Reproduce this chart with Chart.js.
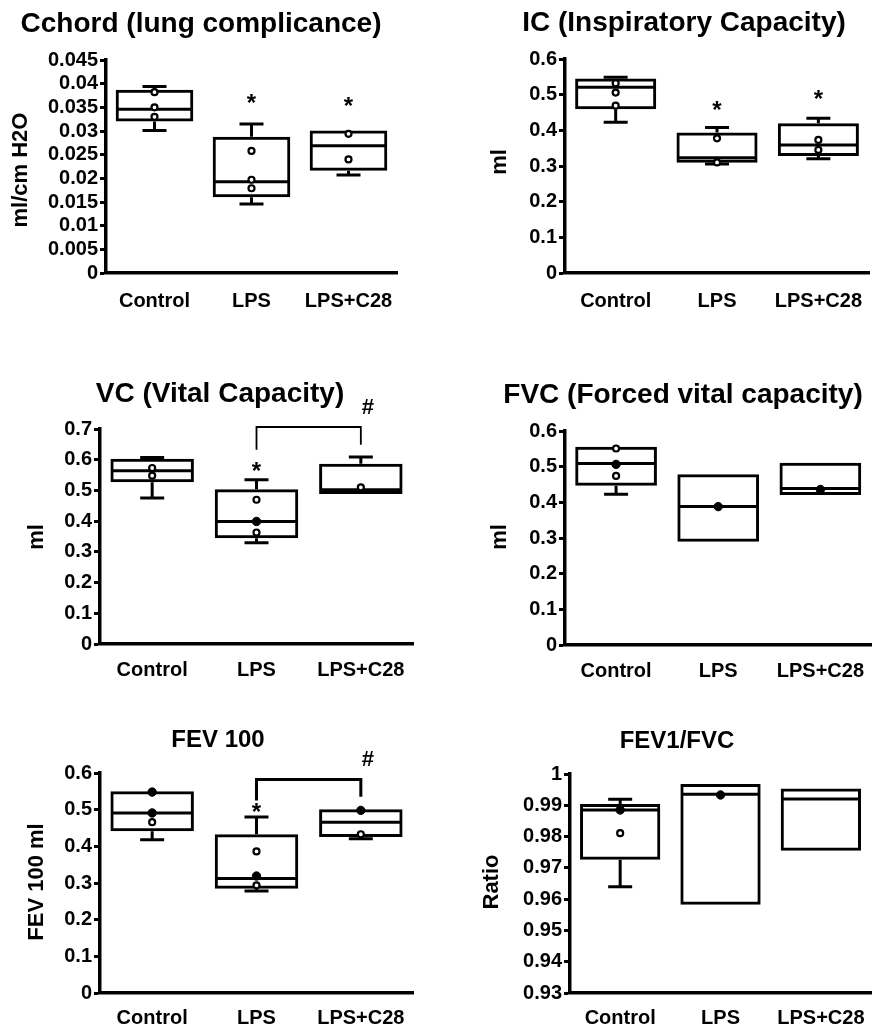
<!DOCTYPE html>
<html>
<head>
<meta charset="utf-8">
<script src="https://cdn.jsdelivr.net/npm/chart.js@4.4.1/dist/chart.umd.min.js"></script>
<style>
  html, body { margin: 0; padding: 0; background: #fff; overflow: hidden; width: 874px; height: 1027px; }
  .panel { position: absolute; }
</style>
</head>
<body>
<div class="panel" style="left:0px;top:0px"><canvas id="c1" width="437" height="320"></canvas></div>
<div class="panel" style="left:437px;top:0px"><canvas id="c2" width="441" height="320"></canvas></div>
<div class="panel" style="left:0px;top:340px"><canvas id="c3" width="437" height="340"></canvas></div>
<div class="panel" style="left:437px;top:340px"><canvas id="c4" width="441" height="340"></canvas></div>
<div class="panel" style="left:0px;top:680px"><canvas id="c5" width="437" height="347"></canvas></div>
<div class="panel" style="left:437px;top:680px"><canvas id="c6" width="441" height="347"></canvas></div>
<script>
const groups = ['Control', 'LPS', 'LPS+C28'];

// Cchord (lung complicance)
const cchordLow = [0.0301, 0.0146, 0.0207];
const cchordQ1 = [0.0320, 0.0160, 0.0216];
const cchordMed = [0.0346, 0.0193, 0.0269];
const cchordQ3 = [0.0387, 0.0288, 0.0301];
const cchordHigh = [0.0394, 0.0315, null];
const cchordOpen = [[0.0382, 0.0350, 0.0330], [0.0258, 0.0197, 0.0179], [0.0294, 0.0240]];
const cchordFilled = [[], [], []];
const cchordStars = [null, 0.0369, 0.0362];
const cchordTicks = [0, 0.005, 0.01, 0.015, 0.02, 0.025, 0.03, 0.035, 0.04, 0.045];

// IC (Inspiratory Capacity)
const icLow = [0.423, 0.3055, 0.3205];
const icQ1 = [0.459, 0.309, 0.328];
const icMed = [0.521, 0.323, 0.359];
const icQ3 = [0.5455, 0.3936, 0.420];
const icHigh = [0.549, 0.4077, 0.434];
const icOpen = [[0.532, 0.506, 0.469], [0.3777, 0.310], [0.373, 0.345]];
const icFilled = [[], [], []];
const icStars = [null, 0.469, 0.501];
const icTicks = [0, 0.1, 0.2, 0.3, 0.4, 0.5, 0.6];

// VC (Vital Capacity)
const vcLow = [0.475, 0.330, null];
const vcQ1 = [0.527, 0.3446, 0.488];
const vcMed = [0.564, 0.399, 0.502];
const vcQ3 = [0.603, 0.504, 0.587];
const vcHigh = [0.6076, 0.535, 0.6087];
const vcOpen = [[0.573, 0.548], [0.4696, 0.363], [0.510]];
const vcFilled = [[], [0.399], []];
const vcStars = [null, 0.578, null];
const vcBracket = [0.7065, 0.6326, 0.649];   // top, LPS leg end, LPS+C28 leg end
const vcHash = 0.768;
const vcTicks = [0, 0.1, 0.2, 0.3, 0.4, 0.5, 0.6, 0.7];

// FVC (Forced vital capacity)
const fvcLow = [0.4224, null, null];
const fvcQ1 = [0.4467, 0.2897, 0.4206];
const fvcMed = [0.509, 0.388, 0.439];
const fvcQ3 = [0.556, 0.4785, 0.511];
const fvcHigh = [null, null, null];
const fvcOpen = [[0.551, 0.474], [], []];
const fvcFilled = [[0.5065], [0.388], [0.436]];
const fvcTicks = [0, 0.1, 0.2, 0.3, 0.4, 0.5, 0.6];

// FEV 100
const fevLow = [0.418, 0.278, 0.421];
const fevQ1 = [0.441, 0.2845, 0.4255];
const fevMed = [0.491, 0.312, 0.466];
const fevQ3 = [0.550, 0.433, 0.501];
const fevHigh = [null, 0.480, null];
const fevOpen = [[0.466], [0.386, 0.2936], [0.433]];
const fevFilled = [[0.548, 0.491], [0.319], [0.498]];
const fevStars = [null, 0.507, null];
const fevBracket = [0.582, 0.525, 0.535];
const fevHash = 0.635;
const fevTicks = [0, 0.1, 0.2, 0.3, 0.4, 0.5, 0.6];

// FEV1/FVC
const ratioLow = [0.9640, null, null];
const ratioQ1 = [0.9726, 0.9582, 0.9755];
const ratioMed = [0.9885, 0.9935, 0.9920];
const ratioQ3 = [0.9904, 0.9968, 0.9954];
const ratioHigh = [0.9919, null, null];
const ratioOpen = [[0.9811], [], []];
const ratioFilled = [[0.9885], [0.9933], []];
const ratioTicks = [0.93, 0.94, 0.95, 0.96, 0.97, 0.98, 0.99, 1];

const FONT = '"Liberation Sans", Arial, Helvetica, sans-serif';
Chart.defaults.font.family = FONT;
Chart.defaults.color = '#000';

function toPoints(lists) {
  return lists.flatMap((vals, i) => vals.map(v => ({ x: groups[i], y: v })));
}

function makeChart(id, p) {
  /* whiskers, medians, titles and marks drawn on top of the scales */
  const extras = {
    id: 'boxExtras',
    beforeDatasetsDraw(chart) {
      const ctx = chart.ctx, xs = chart.scales.x, ys = chart.scales.y;
      const meta = chart.getDatasetMeta(0);
      ctx.save();
      ctx.strokeStyle = '#000';
      ctx.lineWidth = 3;
      groups.forEach((g, i) => {
        const x = xs.getPixelForValue(i);
        const half = meta.data[i].width / 2;
        const ym = ys.getPixelForValue(p.med[i]);
        ctx.beginPath();
        ctx.moveTo(x - half + 1, ym);
        ctx.lineTo(x + half - 1, ym);
        ctx.stroke();
        [[p.high[i], p.q3[i]], [p.low[i], p.q1[i]]].forEach(([w, edge]) => {
          if (w == null) return;
          const yw = ys.getPixelForValue(w), ye = ys.getPixelForValue(edge);
          ctx.beginPath();
          ctx.moveTo(x, ye);
          ctx.lineTo(x, yw);
          ctx.moveTo(x - 12, yw);
          ctx.lineTo(x + 12, yw);
          ctx.stroke();
        });
      });
      ctx.restore();
    },
    afterDraw(chart) {
      const ctx = chart.ctx, xs = chart.scales.x, ys = chart.scales.y;
      ctx.save();
      ctx.fillStyle = '#000';
      ctx.strokeStyle = '#000';
      ctx.textAlign = 'center';
      ctx.textBaseline = 'middle';

      ctx.font = 'bold ' + p.titleSize + 'px ' + FONT;
      ctx.fillText(p.title, p.titleX, p.titleY);

      ctx.save();
      ctx.translate(p.yTitleX, p.yTitleY);
      ctx.rotate(-Math.PI / 2);
      ctx.font = 'bold 22px ' + FONT;
      ctx.fillText(p.yTitle, 0, 0);
      ctx.restore();

      if (p.stars) {
        ctx.font = 'bold 24px ' + FONT;
        p.stars.forEach((v, i) => {
          if (v == null) return;
          ctx.fillText('*', xs.getPixelForValue(i), ys.getPixelForValue(v) + 6);
        });
      }

      if (p.bracket) {
        const xl = xs.getPixelForValue(1), xr = xs.getPixelForValue(2);
        const yt = ys.getPixelForValue(p.bracket[0]);
        ctx.lineWidth = p.bracketWidth;
        ctx.beginPath();
        ctx.moveTo(xl, ys.getPixelForValue(p.bracket[1]));
        ctx.lineTo(xl, yt);
        ctx.lineTo(xr, yt);
        ctx.lineTo(xr, ys.getPixelForValue(p.bracket[2]));
        ctx.stroke();
        ctx.font = 'bold 22px ' + FONT;
        ctx.fillText('#', xr + 7, ys.getPixelForValue(p.hash));
      }
      ctx.restore();
    }
  };

  return new Chart(document.getElementById(id), {
    type: 'bar',
    data: {
      labels: groups,
      datasets: [{
        type: 'bar',
        data: p.q1.map((v, i) => [v, p.q3[i]]),
        backgroundColor: 'rgba(255,255,255,0)',
        borderColor: '#000',
        borderWidth: 3,
        borderSkipped: false,
        categoryPercentage: 1,
        barPercentage: 0.8,
        order: 3
      }, {
        type: 'line',
        showLine: false,
        data: toPoints(p.open),
        pointRadius: 3,
        pointBorderWidth: 2.2,
        pointBackgroundColor: '#fff',
        pointBorderColor: '#000',
        order: 2
      }, {
        type: 'line',
        showLine: false,
        data: toPoints(p.filled),
        pointRadius: 4.2,
        pointBorderWidth: 1,
        pointBackgroundColor: '#000',
        pointBorderColor: '#000',
        order: 1
      }]
    },
    options: {
      responsive: false,
      animation: false,
      events: [],
      layout: { autoPadding: false, padding: { top: p.top, right: p.right, left: 0, bottom: 0 } },
      plugins: { legend: { display: false }, tooltip: { enabled: false }, title: { display: false } },
      scales: {
        x: {
          type: 'category',
          offset: true,
          grid: { display: false, drawTicks: false },
          border: { display: true, color: '#000', width: 3.5 },
          ticks: { color: '#000', font: { size: 20, weight: 'bold' }, padding: p.xPad, autoSkip: false, maxRotation: 0 },
          afterFit: s => { s.height = p.xH; }
        },
        y: {
          min: p.ticks[0],
          max: p.ticks[p.ticks.length - 1],
          afterBuildTicks: s => { s.ticks = p.ticks.map(v => ({ value: v })); },
          grid: { display: true, drawOnChartArea: false, drawTicks: true, tickLength: 6, tickWidth: 3, tickColor: '#000' },
          border: { display: true, color: '#000', width: 3.5 },
          ticks: { color: '#000', font: { size: 20, weight: 'bold' }, padding: 2, autoSkip: false, callback: v => String(v) },
          afterFit: s => { s.width = p.yW; }
        }
      }
    },
    plugins: [extras]
  });
}

makeChart('c1', {
  low: cchordLow, q1: cchordQ1, med: cchordMed, q3: cchordQ3, high: cchordHigh,
  open: cchordOpen, filled: cchordFilled, stars: cchordStars, ticks: cchordTicks,
  title: 'Cchord (lung complicance)', titleSize: 28, titleX: 201, titleY: 24,
  yTitle: 'ml/cm H2O', yTitleX: 21, yTitleY: 170,
  yW: 106, top: 60, right: 40, xH: 47, xPad: 16
});

makeChart('c2', {
  low: icLow, q1: icQ1, med: icMed, q3: icQ3, high: icHigh,
  open: icOpen, filled: icFilled, stars: icStars, ticks: icTicks,
  title: 'IC (Inspiratory Capacity)', titleSize: 28, titleX: 247, titleY: 23,
  yTitle: 'ml', yTitleX: 63, yTitleY: 162,
  yW: 128, top: 59, right: 0, xH: 47, xPad: 16
});

makeChart('c3', {
  low: vcLow, q1: vcQ1, med: vcMed, q3: vcQ3, high: vcHigh,
  open: vcOpen, filled: vcFilled, stars: vcStars, ticks: vcTicks,
  bracket: vcBracket, hash: vcHash, bracketWidth: 1.8,
  title: 'VC (Vital Capacity)', titleSize: 28, titleX: 220, titleY: 54,
  yTitle: 'ml', yTitleX: 37, yTitleY: 197,
  yW: 100, top: 89, right: 24, xH: 36, xPad: 14
});

makeChart('c4', {
  low: fvcLow, q1: fvcQ1, med: fvcMed, q3: fvcQ3, high: fvcHigh,
  open: fvcOpen, filled: fvcFilled, ticks: fvcTicks,
  title: 'FVC (Forced vital capacity)', titleSize: 28, titleX: 246, titleY: 55,
  yTitle: 'ml', yTitleX: 63, yTitleY: 197,
  yW: 128, top: 91, right: 0, xH: 35, xPad: 14
});

makeChart('c5', {
  low: fevLow, q1: fevQ1, med: fevMed, q3: fevQ3, high: fevHigh,
  open: fevOpen, filled: fevFilled, stars: fevStars, ticks: fevTicks,
  bracket: fevBracket, hash: fevHash, bracketWidth: 3,
  title: 'FEV 100', titleSize: 24, titleX: 218, titleY: 60,
  yTitle: 'FEV 100 ml', yTitleX: 37, yTitleY: 202,
  yW: 100, top: 93, right: 24, xH: 34, xPad: 13
});

makeChart('c6', {
  low: ratioLow, q1: ratioQ1, med: ratioMed, q3: ratioQ3, high: ratioHigh,
  open: ratioOpen, filled: ratioFilled, ticks: ratioTicks,
  title: 'FEV1/FVC', titleSize: 24, titleX: 240, titleY: 61,
  yTitle: 'Ratio', yTitleX: 55, yTitleY: 202,
  yW: 133, top: 94, right: 3, xH: 34, xPad: 13
});
</script>
</body>
</html>
